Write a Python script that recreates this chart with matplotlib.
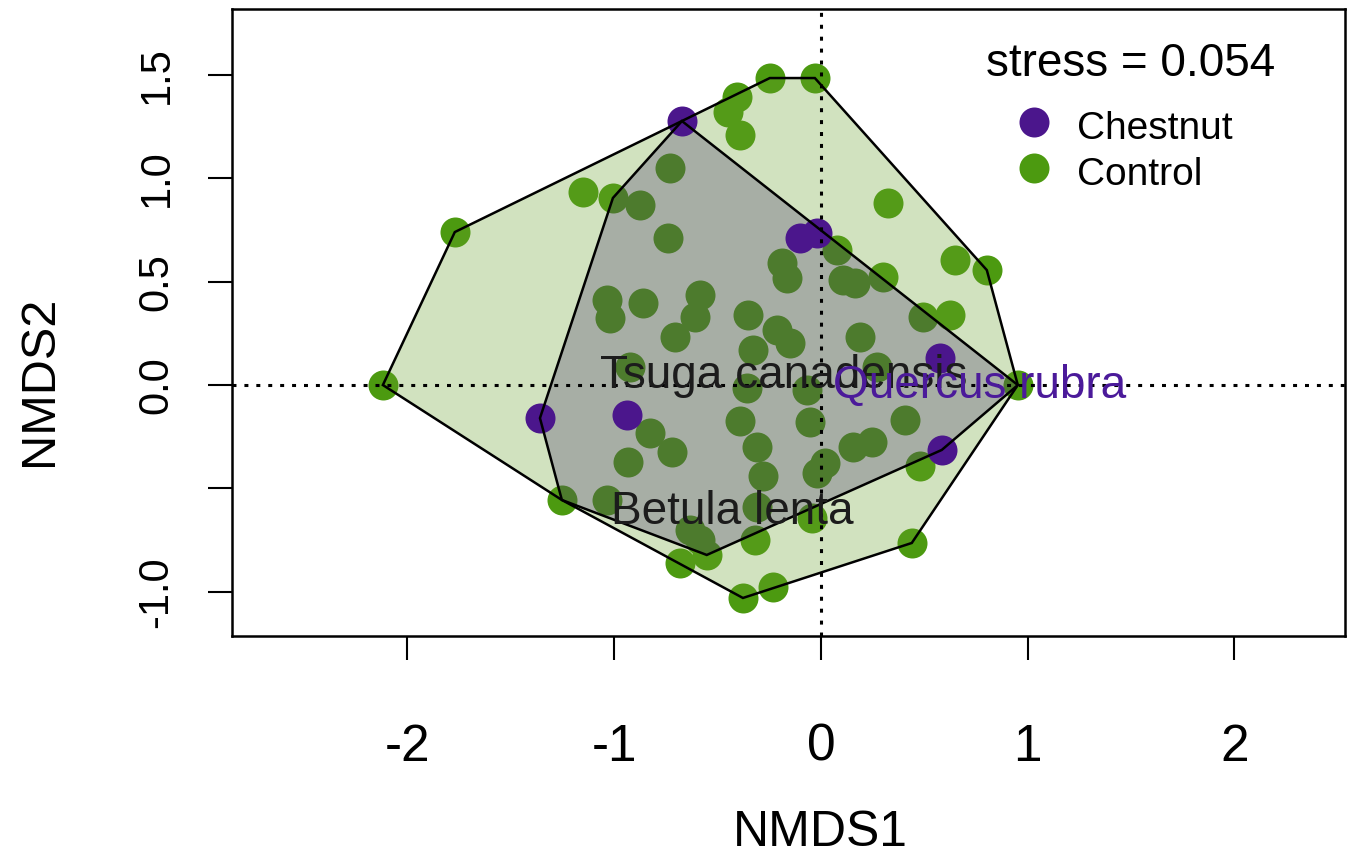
import matplotlib
matplotlib.use("Agg")
import matplotlib.pyplot as plt
from matplotlib.patches import Polygon
import numpy as np

plt.rcParams['font.family'] = ['Liberation Sans', 'DejaVu Sans']

# NMDS site scores, by treatment
chestnut_x = [-0.672, -0.102, -0.019, 0.576, 0.585, -1.359, -0.939]
chestnut_y = [1.277, 0.711, 0.735, 0.131, -0.314, -0.160, -0.145]

control_x = [-2.119, -1.771, -1.151, -1.006, -0.876, -0.731, -0.406, -0.450, -0.392, -0.247,
             -0.029, -0.740, 0.324, -0.189, -0.164, 0.077, 0.106, 0.164, 0.300, 0.648,
             0.803, 0.493, 0.624, 0.189, 0.271, 0.953, -1.035, -1.021, -0.861, -0.585,
             -0.610, -0.706, -0.353, -0.329, -0.213, -0.150, -0.924, -0.358, -0.068, -0.827,
             -0.721, -0.934, -0.392, -0.310, -0.281, -0.053, -0.019, 0.019, 0.155, 0.247,
             0.406, 0.479, 0.440, -1.253, -1.035, -0.634, -0.585, -0.552, -0.682, -0.319,
             -0.377, -0.232, -0.044, -0.310]
control_y = [0.000, 0.740, 0.934, 0.905, 0.871, 1.050, 1.393, 1.321, 1.209, 1.485,
             1.485, 0.711, 0.881, 0.590, 0.518, 0.653, 0.508, 0.493, 0.522, 0.605,
             0.556, 0.329, 0.339, 0.232, 0.087, 0.000, 0.411, 0.324, 0.397, 0.435,
             0.329, 0.232, 0.339, 0.169, 0.266, 0.203, 0.087, -0.015, -0.024, -0.232,
             -0.324, -0.373, -0.174, -0.300, -0.440, -0.179, -0.426, -0.377, -0.300, -0.276,
             -0.169, -0.392, -0.764, -0.556, -0.556, -0.701, -0.750, -0.822, -0.861, -0.750,
             -1.030, -0.977, -0.643, -0.590]
# control plots grouped with the chestnut plots in the inner hull (1) or not (0)
control_inner = [0, 0, 0, 1, 1, 1, 0, 0, 0, 0,
                 0, 1, 0, 1, 1, 1, 1, 1, 0, 0,
                 0, 1, 0, 1, 1, 1, 1, 1, 1, 1,
                 1, 1, 1, 1, 1, 1, 1, 1, 1, 1,
                 1, 1, 1, 1, 1, 1, 1, 1, 1, 1,
                 1, 0, 0, 1, 1, 1, 1, 1, 0, 0,
                 0, 0, 0, 1]

# species scores
species = ["Tsuga canadensis", "Betula lenta", "Quercus rubra"]
species_x = [-0.179, -0.430, 0.769]
species_y = [0.063, -0.595, 0.015]
species_colors = ["#1c1c1c", "#1c1c1c", "#4b1a9a"]

stress = 0.054
groups = ["Chestnut", "Control"]
group_colors = ["#4b168c", "#4c9a10"]
hull_fill = ["#3c2864", "#69a02d"]
hull_alpha = [0.28, 0.30]

x_ticks = [-2, -1, 0, 1, 2]
x_tick_labels = ["-2", "-1", "0", "1", "2"]
y_ticks = [-1.0, -0.5, 0.0, 0.5, 1.0, 1.5]
y_tick_labels = ["-1.0", "", "0.0", "0.5", "1.0", "1.5"]


def convex_hull(xs, ys):
    pts = sorted(set(zip(xs, ys)))

    def cross(o, a, b):
        return (a[0] - o[0]) * (b[1] - o[1]) - (a[1] - o[1]) * (b[0] - o[0])

    lower, upper = [], []
    for p in pts:
        while len(lower) >= 2 and cross(lower[-2], lower[-1], p) <= 0:
            lower.pop()
        lower.append(p)
    for p in reversed(pts):
        while len(upper) >= 2 and cross(upper[-2], upper[-1], p) <= 0:
            upper.pop()
        upper.append(p)
    return np.array(lower[:-1] + upper[:-1])


W, H = 1356, 858
fig = plt.figure(figsize=(W / 100, H / 100), dpi=100)
L, R, T, B = 232, 1345, 9, 636
ax = fig.add_axes([L / W, 1 - B / H, (R - L) / W, (B - T) / H])
ax.set_xlim(-2.849, 2.536)
ax.set_ylim(-1.214, 1.819)

msize = 21.6 ** 2
ax.scatter(control_x, control_y, s=msize, c=group_colors[1], linewidths=0, zorder=2)

# outer hull around every plot, inner hull around the chestnut group
all_x = control_x + chestnut_x
all_y = control_y + chestnut_y
inner_x = chestnut_x + [x for x, f in zip(control_x, control_inner) if f]
inner_y = chestnut_y + [y for y, f in zip(control_y, control_inner) if f]
hulls = [convex_hull(all_x, all_y), convex_hull(inner_x, inner_y)]
ax.add_patch(Polygon(hulls[0], closed=True, facecolor=hull_fill[1], alpha=hull_alpha[1],
                     edgecolor='none', zorder=3))
ax.add_patch(Polygon(hulls[1], closed=True, facecolor=hull_fill[0], alpha=hull_alpha[0],
                     edgecolor='none', zorder=3.5))

ax.scatter(chestnut_x, chestnut_y, s=msize, c=group_colors[0], linewidths=0, zorder=4)

for hull in hulls:
    ax.add_patch(Polygon(hull, closed=True, fill=False, edgecolor='black', lw=1.8,
                         joinstyle='miter', zorder=5))

dot = (0, (1.3, 2.6))
ax.axhline(0, color='black', lw=2.2, linestyle=dot, dash_capstyle='butt', zorder=6)
ax.axvline(0, color='black', lw=2.2, linestyle=dot, dash_capstyle='butt', zorder=6)

for name, sx, sy, col in zip(species, species_x, species_y, species_colors):
    ax.annotate(name, (sx, sy), xytext=(0, -0.358 * 33), textcoords='offset points',
                ha='center', va='baseline', fontsize=33, color=col, zorder=7)

ax.set_xticks(x_ticks)
ax.set_xticklabels(x_tick_labels)
ax.set_yticks(y_ticks)
ax.set_yticklabels(y_tick_labels)
ax.tick_params(axis='both', direction='out', length=17, width=1.5, color='black')
ax.tick_params(axis='x', pad=45.5, labelsize=37)
ax.tick_params(axis='y', labelrotation=90, pad=23, labelsize=30)
for lab in ax.get_yticklabels():
    lab.set_va('center')

for sp in ax.spines.values():
    sp.set_linewidth(1.8)

ax.set_xlabel("NMDS1", fontsize=36)
ax.xaxis.set_label_coords(0.5283, -0.3349)
ax.xaxis.label.set_va('baseline')
ax.set_ylabel("NMDS2", fontsize=35)
ax.yaxis.set_label_coords(-0.1614, 0.4067)
ax.yaxis.label.set_va('baseline')

ax.text(0.8077, 0.8925, f"stress = {stress:.3f}", transform=ax.transAxes,
        ha='center', va='baseline', fontsize=33)

leg_y = [0.8198, 0.7464]
for name, col, yy in zip(groups, group_colors, leg_y):
    ax.scatter([0.7206], [yy], s=msize, c=col, linewidths=0, transform=ax.transAxes,
               clip_on=False, zorder=8)
    ax.annotate(name, (0.7592, yy), xycoords='axes fraction', xytext=(0, -0.358 * 28 - 2),
                textcoords='offset points', ha='left', va='baseline', fontsize=28)

fig.savefig("out.png", dpi=100)
